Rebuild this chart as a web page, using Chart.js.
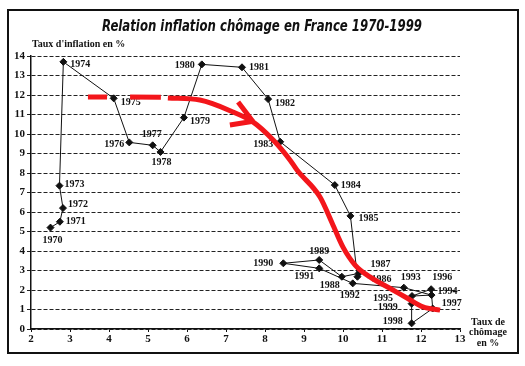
<!DOCTYPE html>
<html><head><meta charset="utf-8">
<script src="https://cdn.jsdelivr.net/npm/chart.js@4"></script>
<style>html,body{margin:0;padding:0;background:#fff}</style>
</head><body>
<canvas id="c" width="525" height="366" style="width:525px;height:366px;display:block"></canvas>
<script>
// ---- data ----
const years = [1970,1971,1972,1973,1974,1975,1976,1977,1978,1979,1980,1981,1982,1983,1984,1985,1986,1987,1988,1989,1990,1991,1992,1993,1994,1995,1996,1997,1998,1999];
const unemployment = [2.5,2.74,2.82,2.73,2.83,4.12,4.52,5.12,5.32,5.92,6.38,7.41,8.08,8.39,9.79,10.19,10.37,10.4,9.97,9.39,8.47,9.39,10.25,11.56,12.27,11.77,12.26,12.3,11.76,11.76];
const inflation = [5.2,5.5,6.2,7.35,13.7,11.83,9.57,9.42,9.08,10.84,13.57,13.42,11.79,9.6,7.38,5.8,2.68,2.85,2.68,3.54,3.37,3.11,2.34,2.12,1.74,1.69,2.04,1.05,0.29,1.3];
const xTicks = [2,3,4,5,6,7,8,9,10,11,12,13];
const yTicks = [0,1,2,3,4,5,6,7,8,9,10,11,12,13,14];
// hand-drawn red trend (null = pen lifted)
const trendX = [3.46,3.95,3.96,4.54,5.33,5.34,5.51,6.33,7.18,7.69,8.21,8.64,8.82,9.41,9.72,10.0,10.31,10.69,11.28,11.64,12.05,12.49];
const trendY = [11.9,11.9,null,11.9,11.88,null,11.85,11.74,11.13,10.62,9.69,8.67,8.15,6.77,5.44,4.2,3.28,2.67,2.0,1.59,1.13,0.97];
const arrowX = [7.31,7.69,7.68,7.10,7.66];
const arrowY = [11.64,10.64,null,10.46,10.64];
const titleText = 'Relation inflation chômage en France 1970-1999';
const yTitle = "Taux d'inflation en %";
const xTitle = ['Taux de','chômage','en %'];

// ---- style ----
const labelOffsets = [[2,13],[16,0],[15,-4],[15,-1],[17,3],[17,4],[-15,2],[-1,-11],[1,10],[16,4],[-17,1],[17,0],[17,4],[-17,3],[16,0],[18,3],[24,3],[22,-9],[-12,9],[0,-9],[-20,0],[-15,8],[-3,12],[7,-10],[16,-4],[-29,2],[11,-12],[19,-5],[-19,-2],[-24,4]];
const INK = '#111';
const RED = '#f3161b';
const serif = '"Liberation Serif", "DejaVu Serif", serif';

const pts = (xs, ys) => xs.map((x,i)=>({x:x, y:ys[i]}));

const decor = {
  id:'decor',
  beforeDraw(chart){
    const c=chart.ctx; c.save(); c.fillStyle='#fff'; c.fillRect(0,0,chart.width,chart.height); c.restore();
  },
  afterDatasetDraw(chart,args){
    if(args.index!==0) return;
    const meta=chart.getDatasetMeta(0); const c=chart.ctx;
    c.save(); c.font='bold 10px '+serif; c.fillStyle=INK; c.textAlign='center'; c.textBaseline='middle';
    meta.data.forEach((pt,i)=>{ const o=labelOffsets[i]; c.fillText(String(years[i]), pt.x+o[0], pt.y+o[1]); });
    c.restore();
  },
  afterDraw(chart){
    const c=chart.ctx; c.save();
    c.font='italic bold 16px "DejaVu Sans Condensed", "DejaVu Sans", sans-serif';
    c.fillStyle=INK; c.textBaseline='middle'; c.textAlign='center';
    const w=c.measureText(titleText).width; const target=320;
    c.translate(262,27); c.scale(target/w,1); c.fillText(titleText,0,0);
    c.setTransform(1,0,0,1,0,0);
    c.font='bold 10px '+serif; c.textAlign='left';
    c.fillText(yTitle,32,44);
    c.textAlign='center';
    xTitle.forEach((t,i)=>c.fillText(t,488,322+i*10.5));
    c.strokeStyle=INK; c.lineWidth=2; c.strokeRect(8,10,510,343);
    c.restore();
  }
};

new Chart(document.getElementById('c'), {
  type:'scatter',
  data:{datasets:[
    {data:pts(unemployment,inflation), showLine:true, borderColor:INK, borderWidth:1, pointStyle:'rectRot', pointRadius:3.5, pointBackgroundColor:INK, pointBorderColor:INK, order:1},
    {data:pts(trendX,trendY), showLine:true, borderColor:RED, borderWidth:5, pointRadius:0, cubicInterpolationMode:'monotone', spanGaps:false, order:0},
    {data:pts(arrowX,arrowY), showLine:true, borderColor:RED, borderWidth:5, pointRadius:0, spanGaps:false, order:0}
  ]},
  options:{
    responsive:false, animation:false, devicePixelRatio:1,
    layout:{padding:{left:0,right:65,top:56,bottom:0}},
    plugins:{legend:{display:false}, tooltip:{enabled:false}},
    scales:{
      x:{type:'linear', min:2, max:13,
        afterBuildTicks:s=>{s.ticks=xTicks.map(v=>({value:v}));},
        afterFit:s=>{s.height=37;},
        grid:{drawOnChartArea:false, drawTicks:true, tickLength:3, color:INK, lineWidth:1},
        border:{display:true, color:INK, width:1.5},
        ticks:{font:{family:serif, size:11, weight:'bold'}, color:INK, padding:1}
      },
      y:{type:'linear', min:0, max:14,
        afterBuildTicks:s=>{s.ticks=yTicks.map(v=>({value:v}));},
        afterFit:s=>{s.width=31;},
        grid:{drawOnChartArea:true, drawTicks:true, tickLength:4, color:'#222', lineWidth:1},
        border:{display:true, color:INK, width:1.5, dash:[4,2]},
        ticks:{font:{family:serif, size:11, weight:'bold'}, color:INK, padding:2}
      }
    }
  },
  plugins:[decor]
});
</script>
</body></html>
